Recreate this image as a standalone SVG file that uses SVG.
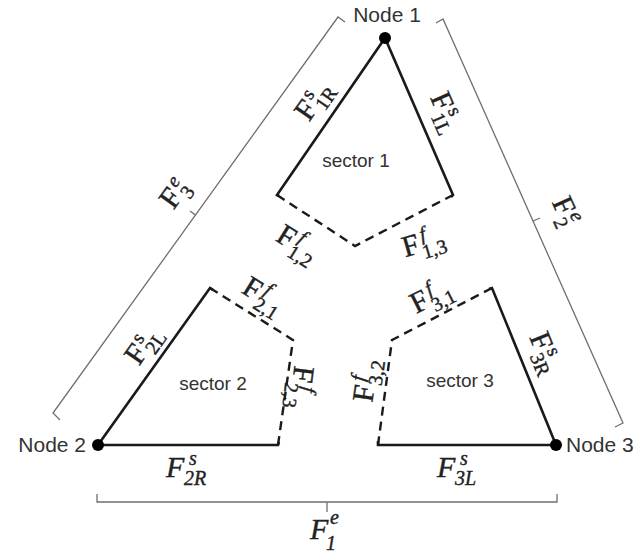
<svg xmlns="http://www.w3.org/2000/svg" width="638" height="556" viewBox="0 0 638 556">
<style>
.solid{fill:none;stroke:#1a1a1a;stroke-width:2.6;stroke-linejoin:miter}
.dash{fill:none;stroke:#1a1a1a;stroke-width:2.4;stroke-dasharray:9 6}
.brace{fill:none;stroke:#6f6f6f;stroke-width:1.3}
.node{fill:#000}
.lbl{font-family:"Liberation Sans","Open Sans",sans-serif;font-size:19px;fill:#333}
.nl{font-size:21px}
.m{font-family:"Liberation Serif","DejaVu Serif",serif;font-size:30px;fill:#222;stroke:#222;stroke-width:0.4}
.it{font-style:italic}
.sc{font-size:20px}
.fi{font-style:italic}
</style>
<rect width="638" height="556" fill="#fff"/>

<g id="connectors">
  <path class="brace" d="M60,420 L53,413 L338,17 L345,22"/>
  <path class="brace" d="M195.5,215 L190,211"/>
  <path class="brace" d="M436,23 L443,19 L623,423 L615,427"/>
  <path class="brace" d="M533,221 L540,218"/>
  <path class="brace" d="M97,494 L97,502 L557,502 L557,494"/>
  <path class="brace" d="M327,502 L327,512"/>
</g>

<g id="sector1">
  <path class="solid" d="M279,196 L277,195 L385,38 L453,195 L451,197"/>
  <path class="dash" d="M277,195 L355,246 L453,195"/>
  <text class="lbl" x="356" y="167" text-anchor="middle">sector 1</text>
</g>

<g id="sector2">
  <path class="solid" d="M213,290 L210,288 L98,445 L278,445 L279,442"/>
  <path class="dash" d="M210,288 L293,340 L278,445"/>
  <text class="lbl" x="213" y="390" text-anchor="middle">sector 2</text>
</g>

<g id="sector3">
  <path class="solid" d="M489,289 L492,288 L556,445 L378,445 L378,441"/>
  <path class="dash" d="M492,288 L392,340 L378,445"/>
  <text class="lbl" x="460" y="387" text-anchor="middle">sector 3</text>
</g>

<g id="node1">
  <circle class="node" cx="385" cy="38" r="6"/>
  <text class="lbl nl" x="387" y="22" text-anchor="middle">Node 1</text>
</g>
<g id="node2">
  <circle class="node" cx="98" cy="445" r="6"/>
  <text class="lbl nl" x="86" y="452" text-anchor="end">Node 2</text>
</g>
<g id="node3">
  <circle class="node" cx="556" cy="445" r="6"/>
  <text class="lbl nl" x="566" y="452">Node 3</text>
</g>

<g id="labels">
  <text class="m" transform="translate(313,101) rotate(-55)"><tspan x="-20" y="9">F</tspan><tspan class="sc" x="-1" y="-2">s</tspan><tspan class="sc" x="-2" y="16">1R</tspan></text>
  <text class="m" transform="translate(446,112) rotate(66.6)"><tspan x="-20" y="9">F</tspan><tspan class="sc" x="-1" y="-2">s</tspan><tspan class="sc" x="-2" y="16">1L</tspan></text>
  <text class="m" transform="translate(175,193) rotate(-54)"><tspan x="-15" y="9">F</tspan><tspan class="sc fi" x="4" y="-2">e</tspan><tspan class="sc" x="3" y="16">3</tspan></text>
  <text class="m" transform="translate(566,212) rotate(65.6)"><tspan x="-15" y="9">F</tspan><tspan class="sc fi" x="4" y="-2">e</tspan><tspan class="sc" x="3" y="16">2</tspan></text>
  <text class="m" transform="translate(296,243) rotate(32)"><tspan x="-20" y="9">F</tspan><tspan class="sc fi" x="0" y="-2">f</tspan><tspan class="sc" x="-2" y="16">1,2</tspan></text>
  <text class="m" transform="translate(422,243) rotate(-16)"><tspan x="-20" y="9">F</tspan><tspan class="sc fi" x="0" y="-2">f</tspan><tspan class="sc" x="-2" y="16">1,3</tspan></text>
  <text class="m" transform="translate(262,295) rotate(32)"><tspan x="-20" y="9">F</tspan><tspan class="sc fi" x="0" y="-2">f</tspan><tspan class="sc" x="-2" y="16">2,1</tspan></text>
  <text class="m" transform="translate(301,386) rotate(97)"><tspan x="-20" y="9">F</tspan><tspan class="sc fi" x="0" y="-2">f</tspan><tspan class="sc" x="-2" y="16">2,3</tspan></text>
  <text class="m" transform="translate(430,297) rotate(-27)"><tspan x="-20" y="9">F</tspan><tspan class="sc fi" x="0" y="-2">f</tspan><tspan class="sc" x="-2" y="16">3,1</tspan></text>
  <text class="m" transform="translate(366,382) rotate(-82)"><tspan x="-20" y="9">F</tspan><tspan class="sc fi" x="0" y="-2">f</tspan><tspan class="sc" x="-2" y="16">3,2</tspan></text>
  <text class="m" transform="translate(143,345) rotate(-55)"><tspan x="-20" y="9">F</tspan><tspan class="sc" x="-1" y="-2">s</tspan><tspan class="sc" x="-2" y="16">2L</tspan></text>
  <text class="m" transform="translate(545,352) rotate(67.8)"><tspan x="-20" y="9">F</tspan><tspan class="sc" x="-1" y="-2">s</tspan><tspan class="sc" x="-2" y="16">3R</tspan></text>
  <text class="m it" transform="translate(191,468)"><tspan x="-25" y="9">F</tspan><tspan class="sc" x="-2" y="-3">s</tspan><tspan class="sc" x="-7" y="17">2R</tspan></text>
  <text class="m it" transform="translate(462,468)"><tspan x="-25" y="9">F</tspan><tspan class="sc" x="-2" y="-3">s</tspan><tspan class="sc" x="-7" y="17">3L</tspan></text>
  <text class="m it" transform="translate(326,530)"><tspan x="-16" y="9">F</tspan><tspan class="sc" x="4" y="-6">e</tspan><tspan class="sc" x="0" y="20">1</tspan></text>
</g>
</svg>
